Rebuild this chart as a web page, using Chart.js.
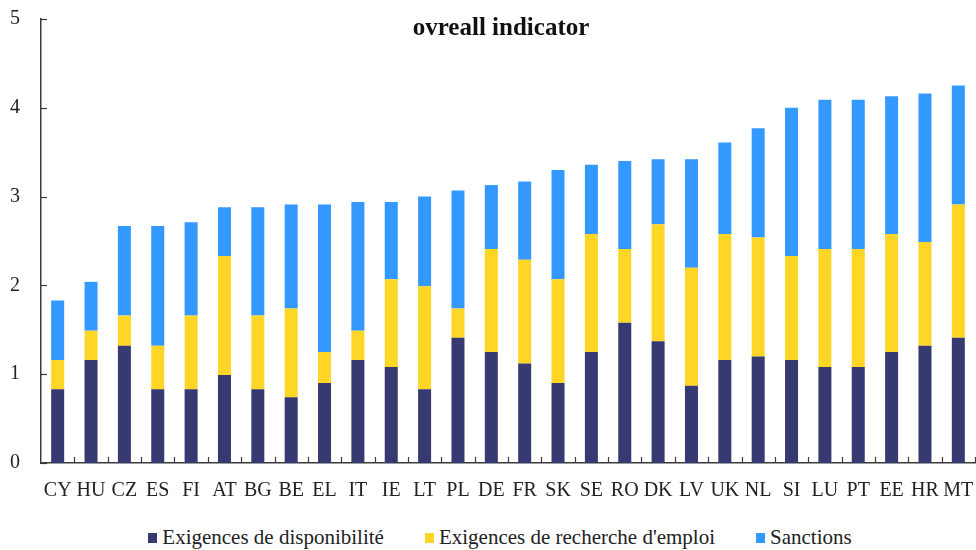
<!DOCTYPE html>
<html lang="fr">
<head>
  <meta charset="UTF-8" />
  <title>ovreall indicator</title>
  <script src="https://cdn.jsdelivr.net/npm/chart.js"></script>
  <style>
    body {
      margin: 0;
      padding: 0;
      background: #fff;
      font-family: 'Liberation Serif', 'Times New Roman', serif;
    }
    .wrap {
      width: 976px;
      height: 550px;
      position: relative;
    }
    .chart-box {
      width: 976px;
      height: 515px;
    }
    /* legend below the plot */
    .legend {
      display: flex;
      justify-content: center;
      align-items: center;
      gap: 41px;
      height: 35px;
      margin-top: 5px;
      font-size: 21px;
      color: #222;
      padding-left: 24px;
    }
    .legend span.item {
      display: flex;
      align-items: center;
    }
    .legend i {
      display: inline-block;
      width: 9px;
      height: 10px;
      margin-right: 5px;
    }
  </style>
</head>
<body>
  <div class="wrap">
    <div class="chart-box"><canvas id="overallChart"></canvas></div>
    <div class="legend" id="legend"></div>
  </div>
  <script>
    // Pays (ordre croissant de l'indicateur global)
    const countries = ['CY','HU','CZ','ES','FI','AT','BG','BE','EL','IT','IE','LT','PL','DE',
                       'FR','SK','SE','RO','DK','LV','UK','NL','SI','LU','PT','EE','HR','MT'];

    // Composantes empilées
    const disponibilite = [0.83,1.16,1.32,0.83,0.83,0.99,0.83,0.74,0.90,1.16,1.08,0.83,1.41,1.25,
                           1.12,0.90,1.25,1.58,1.37,0.87,1.16,1.20,1.16,1.08,1.08,1.25,1.32,1.41];
    const rechercheEmploi = [0.33,0.33,0.34,0.49,0.83,1.34,0.83,1.00,0.35,0.33,0.99,1.16,0.33,1.16,
                             1.17,1.17,1.33,0.83,1.32,1.33,1.42,1.34,1.17,1.33,1.33,1.33,1.17,1.50];
    const sanctions = [0.67,0.55,1.01,1.35,1.05,0.55,1.22,1.17,1.66,1.45,0.87,1.01,1.33,0.72,
                       0.88,1.23,0.78,0.99,0.73,1.22,1.03,1.23,1.67,1.68,1.68,1.55,1.67,1.34];

    const yTicks = [0, 1, 2, 3, 4, 5];

    const seriesNames = ['Exigences de disponibilité', "Exigences de recherche d'emploi", 'Sanctions'];
    const colors = ['#363A70', '#FFD625', '#3399FF'];

    const serif = "'Liberation Serif', 'Times New Roman', serif";
    const axisColor = '#3a3a3a';

    // small inward tick marks + title inside the plot
    const decorPlugin = {
      id: 'decor',
      afterDraw(chart) {
        const { ctx, chartArea, scales } = chart;
        ctx.save();
        ctx.strokeStyle = axisColor;
        ctx.lineWidth = 1.2;
        // y ticks pointing right
        yTicks.forEach(v => {
          const y = Math.round(scales.y.getPixelForValue(v)) + 0.5;
          ctx.beginPath();
          ctx.moveTo(chartArea.left, y);
          ctx.lineTo(chartArea.left + 6, y);
          ctx.stroke();
        });
        // x ticks between categories, pointing up
        const step = (chartArea.right - chartArea.left) / countries.length;
        for (let i = 1; i <= countries.length; i++) {
          const x = Math.round(scales.x.getPixelForValue(i - 1) + step / 2) + 0.5;
          ctx.beginPath();
          ctx.moveTo(x, chartArea.bottom);
          ctx.lineTo(x, chartArea.bottom - 6);
          ctx.stroke();
        }
        // title
        ctx.fillStyle = '#111';
        ctx.font = 'bold 25px ' + serif;
        ctx.textAlign = 'center';
        ctx.textBaseline = 'alphabetic';
        ctx.fillText('ovreall indicator', (chartArea.left + chartArea.right) / 2 - 7, chartArea.top + 16);
        ctx.restore();
      }
    };

    const ctx = document.getElementById('overallChart').getContext('2d');
    new Chart(ctx, {
      type: 'bar',
      data: {
        labels: countries,
        datasets: [disponibilite, rechercheEmploi, sanctions].map((data, i) => ({
          label: seriesNames[i],
          data: data,
          backgroundColor: colors[i],
          borderWidth: 0,
          categoryPercentage: 1,
          barPercentage: 0.39
        }))
      },
      options: {
        responsive: true,
        maintainAspectRatio: false,
        animation: false,
        layout: { padding: { top: 19, right: 1, left: 0, bottom: 0 } },
        plugins: {
          legend: { display: false },
          tooltip: { enabled: false }
        },
        scales: {
          x: {
            stacked: true,
            grid: { display: false, drawTicks: false },
            border: { display: true, color: axisColor, width: 1.5 },
            ticks: {
              color: '#222',
              font: { family: serif, size: 20 },
              padding: 16,
              autoSkip: false,
              maxRotation: 0
            },
            afterFit: scale => {
              scale.height = 52;
              scale.paddingLeft = 0;
              scale.paddingRight = 0;
            }
          },
          y: {
            stacked: true,
            min: 0,
            max: 5,
            grid: { display: false, drawTicks: false },
            border: { display: true, color: axisColor, width: 1.5 },
            ticks: {
              stepSize: 1,
              color: '#222',
              font: { family: serif, size: 20 },
              padding: 21
            },
            afterFit: scale => {
              scale.width = 41;
              scale.paddingTop = 0;
              scale.paddingBottom = 0;
            }
          }
        }
      },
      plugins: [decorPlugin]
    });

    // legend built from the same series
    const legend = document.getElementById('legend');
    seriesNames.forEach((name, i) => {
      const item = document.createElement('span');
      item.className = 'item';
      item.innerHTML = `<i style="background:${colors[i]}"></i>${name}`;
      legend.appendChild(item);
    });
  </script>
</body>
</html>
